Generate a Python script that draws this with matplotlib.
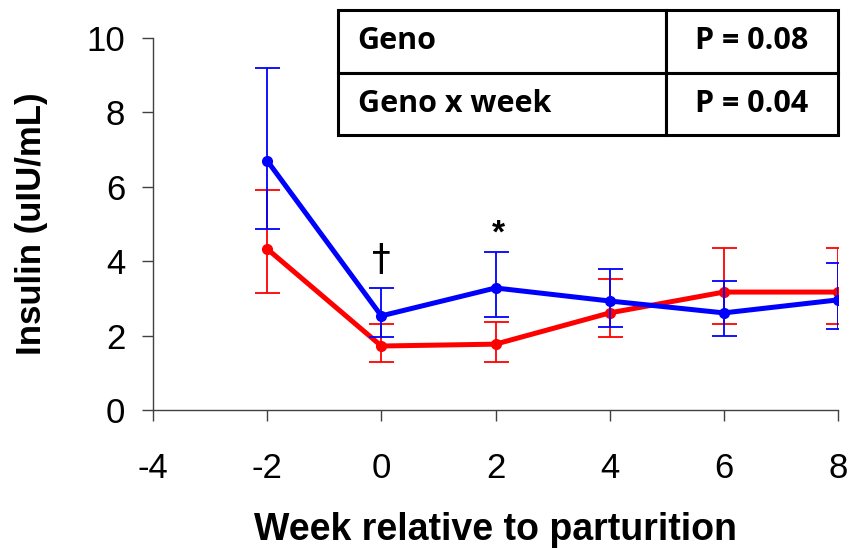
import matplotlib
matplotlib.use('Agg')
import matplotlib.pyplot as plt

plt.rcParams['font.family'] = ['Liberation Sans', 'DejaVu Sans']
plt.rcParams['axes.unicode_minus'] = False

weeks = [-2, 0, 2, 4, 6, 8]

# blue genotype
blue_mean = [6.70, 2.53, 3.28, 2.93, 2.61, 2.96]
blue_upper = [9.19, 3.28, 4.25, 3.79, 3.47, 3.95]
blue_lower = [4.87, 1.96, 2.50, 2.23, 1.99, 2.18]

# red genotype
red_mean = [4.33, 1.72, 1.77, 2.61, 3.17, 3.17]
red_upper = [5.91, 2.31, 2.37, 3.52, 4.35, 4.35]
red_lower = [3.15, 1.29, 1.29, 1.96, 2.31, 2.31]

x_ticks = [-4, -2, 0, 2, 4, 6, 8]
y_ticks = [0, 2, 4, 6, 8, 10]

table_rows = [['Geno', 'P = 0.08'], ['Geno x week', 'P = 0.04']]


def asym_err(mean, lower, upper):
    return [[m - lo for m, lo in zip(mean, lower)],
            [hi - m for m, hi in zip(mean, upper)]]


fig = plt.figure(figsize=(8.52, 5.48), dpi=100)
ax = fig.add_axes([0.1796, 0.2518, 0.804, 0.679])

ax.errorbar(weeks, red_mean, yerr=asym_err(red_mean, red_lower, red_upper),
            color='#ff0000', lw=3.6, marker='o', ms=7, elinewidth=1.3,
            capsize=9, capthick=1.3, zorder=3)
ax.errorbar(weeks, blue_mean, yerr=asym_err(blue_mean, blue_lower, blue_upper),
            color='#0000ff', lw=3.6, marker='o', ms=7, elinewidth=1.3,
            capsize=9, capthick=1.3, zorder=4)

ax.text(0, 3.55, '\u2020', ha='center', va='bottom', fontsize=27,
        family=['DejaVu Sans'])
ax.text(2.05, 4.3, '*', ha='center', va='bottom', fontsize=24,
        fontweight='bold')

ax.set_xlim(-4, 8)
ax.set_ylim(0, 10)
ax.set_xticks(x_ticks)
ax.set_yticks(y_ticks)
ax.tick_params(axis='both', direction='out', length=8, width=1,
               color='#404040', labelsize=25)
ax.tick_params(axis='x', pad=22)
ax.tick_params(axis='y', pad=12)
for side in ['top', 'right']:
    ax.spines[side].set_visible(False)
for side in ['left', 'bottom']:
    ax.spines[side].set_color('#404040')
    ax.spines[side].set_linewidth(1)

ax.set_xlabel('Week relative to parturition', fontsize=27,
              fontweight='bold', labelpad=20)
ax.set_ylabel('Insulin (uIU/mL)', fontsize=25, fontweight='bold',
              labelpad=28)

tbl = ax.table(cellText=table_rows, colWidths=[0.656, 0.344],
               cellLoc='center', bbox=[0.270, 0.739, 0.730, 0.336])
tbl.auto_set_font_size(False)
for (r, c), cell in tbl.get_celld().items():
    cell.set_linewidth(2.2)
    cell.set_edgecolor('black')
    cell.get_text().set_fontsize(22)
    cell.get_text().set_fontweight('bold')
    cell.get_text().set_family(['Open Sans', 'DejaVu Sans'])
    if c == 0:
        cell.get_text().set_ha('left')
        cell.PAD = 0.06

fig.savefig('out.png', dpi=100)
